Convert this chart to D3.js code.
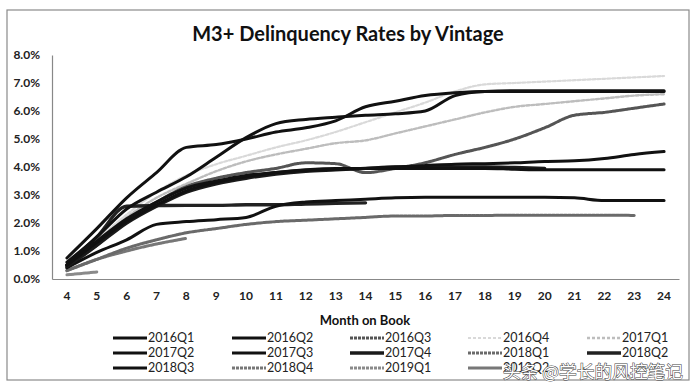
<!DOCTYPE html>
<html><head><meta charset="utf-8">
<script src="https://cdn.jsdelivr.net/npm/d3@7"></script>
<style>body{margin:0;background:#fff;} svg{display:block;}</style>
</head><body><svg id="c" width="696" height="388"></svg>
<script>
// ---------- DATA ----------
const months = [4,5,6,7,8,9,10,11,12,13,14,15,16,17,18,19,20,21,22,23,24];
const yTicks = [0,1,2,3,4,5,6,7,8];
const vintages = ["2016Q1","2016Q2","2016Q3","2016Q4","2017Q1","2017Q2","2017Q3","2017Q4","2018Q1","2018Q2","2018Q3","2018Q4","2019Q1","2019Q2"];
const v2016Q1 = [0.75,1.8,2.9,3.8,4.7,4.8,5.0,5.25,5.4,5.65,6.15,6.35,6.55,6.65,6.7,6.7,6.7,6.7,6.7,6.7,6.7];
const v2016Q2 = [0.6,1.5,2.5,3.1,3.65,4.35,5.05,5.55,5.7,5.78,5.85,5.9,6.0,6.55,6.7,6.72,6.72,6.72,6.72,6.72,6.72];
const v2016Q3 = [0.4,1.2,2.1,2.75,3.3,3.6,3.8,3.95,4.15,4.12,3.8,3.95,4.15,4.45,4.7,5.0,5.4,5.85,5.95,6.1,6.25];
const v2016Q4 = [0.5,1.4,2.3,3.1,3.7,4.1,4.4,4.7,4.95,5.25,5.6,5.95,6.3,6.7,6.95,7.0,7.05,7.1,7.15,7.2,7.25];
const v2017Q1 = [0.5,1.3,2.2,2.9,3.4,3.85,4.2,4.45,4.65,4.85,4.95,5.2,5.45,5.7,5.95,6.15,6.25,6.35,6.45,6.55,6.6];
const v2017Q2 = [0.5,1.35,2.15,2.75,3.25,3.5,3.7,3.8,3.88,3.92,3.95,4.0,4.05,4.1,4.12,4.15,4.2,4.22,4.3,4.45,4.55];
const v2017Q3 = [0.5,1.3,2.05,2.65,3.15,3.45,3.65,3.8,3.9,3.95,3.95,3.95,3.95,3.95,3.95,3.92,3.9,3.9,3.9,3.9,3.9];
const v2017Q4 = [0.45,1.2,2.0,2.6,3.1,3.4,3.6,3.75,3.85,3.9,3.95,4.0,4.0,4.0,4.0,3.98,3.95];
const v2018Q1 = [0.3,0.7,1.1,1.4,1.65,1.8,1.95,2.05,2.1,2.15,2.2,2.25,2.25,2.27,2.27,2.28,2.28,2.28,2.28,2.27];
const v2018Q2 = [0.5,1.5,2.6,2.62,2.63,2.63,2.65,2.65,2.68,2.7,2.72];
const v2018Q3 = [0.4,0.95,1.4,1.95,2.05,2.12,2.2,2.6,2.75,2.8,2.85,2.9,2.92,2.92,2.92,2.92,2.92,2.9,2.8,2.8,2.8];
const v2018Q4 = [0.3,0.7,1.0,1.25,1.45];
const v2019Q1 = [0.15,0.25];
const v2019Q2 = [];
const seriesValues = [v2016Q1,v2016Q2,v2016Q3,v2016Q4,v2017Q1,v2017Q2,v2017Q3,v2017Q4,v2018Q1,v2018Q2,v2018Q3,v2018Q4,v2019Q1,v2019Q2];
const title = "M3+ Delinquency Rates by Vintage";
const xTitle = "Month on Book";
const watermark = "头条 @学长的风控笔记";

// ---------- STYLES ----------
const styles = {
  "2016Q1":{c:"#111",w:3},"2016Q2":{c:"#111",w:3},"2016Q3":{c:"#555",w:3,d:"3,1"},
  "2016Q4":{c:"#d9d9d9",w:2.2,d:"3,2"},"2017Q1":{c:"#bdbdbd",w:2.4,d:"3,2"},
  "2017Q2":{c:"#111",w:3},"2017Q3":{c:"#111",w:3},"2017Q4":{c:"#1a1a1a",w:3.4},
  "2018Q1":{c:"#6a6a6a",w:3,d:"3,1"},"2018Q2":{c:"#222",w:3.4},"2018Q3":{c:"#111",w:3},
  "2018Q4":{c:"#777",w:3,d:"3,1"},"2019Q1":{c:"#8a8a8a",w:3,d:"3,1"},"2019Q2":{c:"#777",w:3}
};
const font = "Lato, 'Open Sans', 'DejaVu Sans', sans-serif";

const svg = d3.select("#c");
svg.append("rect").attr("x",7).attr("y",10).attr("width",682).attr("height",370)
  .attr("fill","#fff").attr("stroke","#8a8a8a").attr("stroke-width",1.2);

const x = d3.scaleBand().domain(months).range([52,679]);
const y = d3.scaleLinear().domain([0,8]).range([279,55]);
const cx = m => x(m) + x.bandwidth()/2;

svg.append("text").attr("x",348).attr("y",41).attr("text-anchor","middle")
  .attr("font-family",font).attr("font-weight","bold").attr("font-size",20).attr("fill","#111").text(title);

const ya = svg.append("g").attr("transform","translate(52,0)")
  .call(d3.axisLeft(y).tickValues(yTicks).tickFormat(d=>d.toFixed(1)+"%").tickSize(0).tickPadding(12));
ya.select(".domain").attr("stroke","#888").attr("stroke-width",1.2);
ya.selectAll("text").attr("font-family",font).attr("font-weight","bold").attr("font-size",12).attr("fill","#222");

const xa = svg.append("g").attr("transform","translate(0,279)")
  .call(d3.axisBottom(x).tickSize(0).tickPadding(12));
xa.select(".domain").attr("stroke","#888").attr("stroke-width",1.2);
xa.selectAll("text").attr("font-family",font).attr("font-weight","bold").attr("font-size",12).attr("fill","#222");

svg.append("text").attr("x",365).attr("y",325).attr("text-anchor","middle")
  .attr("font-family",font).attr("font-weight","bold").attr("font-size",13).attr("fill","#111").text(xTitle);

const line = d3.line().x((d,i)=>cx(months[i])).y(d=>y(d)).curve(d3.curveMonotoneX);
const drawOrder = [3,4,12,11,8,2,9,10,7,6,5,1,0];
drawOrder.forEach(k=>{
  const name = vintages[k], st = styles[name], vals = seriesValues[k];
  if (vals.length < 2) return;
  svg.append("path").datum(vals).attr("d",line).attr("fill","none")
    .attr("stroke",st.c).attr("stroke-width",st.w).attr("stroke-dasharray",st.d||null)
    .attr("stroke-linejoin","round").attr("stroke-linecap","round");
});

// legend
const colX = [113,232,350,468,587], rowY = [338,353,368];
vintages.forEach((name,i)=>{
  const st = styles[name], lx = colX[i%5], ly = rowY[Math.floor(i/5)];
  svg.append("line").attr("x1",lx).attr("x2",lx+34).attr("y1",ly).attr("y2",ly)
    .attr("stroke",st.c).attr("stroke-width",st.w).attr("stroke-dasharray",st.d||null);
  svg.append("text").attr("x",lx+35).attr("y",ly).attr("dy","0.35em")
    .attr("font-family",font).attr("font-size",12.5).attr("fill","#222").text(name);
});

svg.append("text").attr("x",503).attr("y",377.5).attr("font-family","'Noto Sans CJK SC', sans-serif")
  .attr("font-size",16.5).attr("textLength",180).attr("lengthAdjust","spacingAndGlyphs")
  .attr("fill","#fff").attr("stroke","#444").attr("stroke-width",1)
  .attr("paint-order","stroke").text(watermark);
</script></body></html>
